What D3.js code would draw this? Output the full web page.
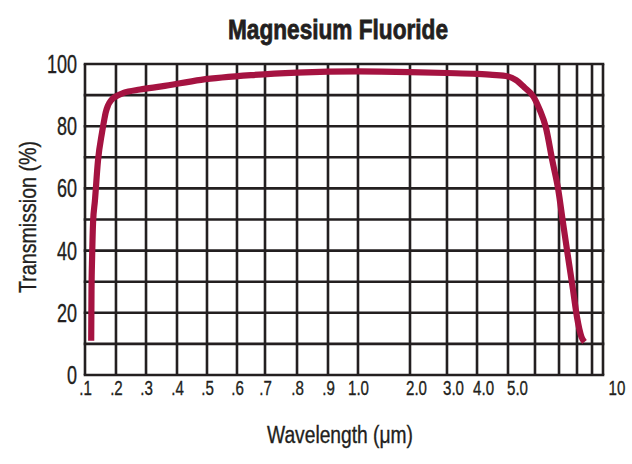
<!DOCTYPE html>
<html>
<head>
<meta charset="utf-8">
<script src="https://cdn.jsdelivr.net/npm/d3@7"></script>
<style>
  html, body { margin: 0; padding: 0; background: #fff; }
  svg { display: block; }
</style>
</head>
<body>
<div id="chart"></div>
<script>
// ---------- data ----------
const title = "Magnesium Fluoride";
const xTitle = "Wavelength (μm)";
const yTitle = "Transmission (%)";

// grid wavelengths (vertical lines) and their labels
const gridWavelengths = [0.1,0.2,0.3,0.4,0.5,0.6,0.7,0.8,0.9,1.0,2,3,4,5,6,7,8,9,10];
const xTickValues = [0.1,0.2,0.3,0.4,0.5,0.6,0.7,0.8,0.9,1.0,2,3,4,5,10];
const xTickLabels = [".1",".2",".3",".4",".5",".6",".7",".8",".9","1.0","2.0","3.0","4.0","5.0","10"];
const yGridValues = [0,10,20,30,40,50,60,70,80,90,100];
const yTickValues = [0,20,40,60,80,100];

// transmission curve
const wavelength = [0.12,0.121,0.123,0.126,0.132,0.142,0.155,0.162,0.167,0.174,0.185,0.2,0.225,0.28,0.35,0.48,0.65,0.8,1.0,2.0,3.0,4.0,4.5,5.0,5.3,5.6,5.95,6.2,6.45,6.72,6.97,7.22,7.5,7.78,8.0,8.3,8.5];
const transmission = [11,27,38,49,56,69,78,82,84.5,86.6,88.4,89.6,90.7,91.8,92.8,94.9,96.4,97.2,97.6,97.4,97.1,96.8,96.5,96.0,94.8,92.5,89.4,85.2,79.7,69.0,59.5,49.0,38.0,27.3,18.6,12.2,10.6];

// ---------- layout ----------
const W = 632, H = 464;
const margin = {top: 64, right: 29, bottom: 89, left: 85};
const iw = W - margin.left - margin.right;
const ih = H - margin.top - margin.bottom;
const ink = "#231f20";
const curveColor = "#a51341";
const font = "'Liberation Sans', Arial, sans-serif";
const squeeze = 0.72;

// the chart's wavelength axis is a hand-laid scale: relative positions of each grid line
const gridFractions = [0,0.0598,0.1178,0.1776,0.2355,0.2934,0.3475,0.4093,0.4691,0.527,0.6274,0.6988,0.7568,0.8166,0.8687,0.9151,0.9498,0.9788,1];

const x = d3.scaleLinear().domain(gridWavelengths).range(gridFractions.map(f => f * iw));
const y = d3.scaleLinear().domain([0,100]).range([ih, 0]);

const svg = d3.select("#chart").append("svg").attr("width", W).attr("height", H)
  .style("background", "#fff");

const g = svg.append("g").attr("transform", `translate(${margin.left},${margin.top})`);

// grid
g.append("g").selectAll("line").data(gridWavelengths).join("line")
  .attr("x1", d => x(d)).attr("x2", d => x(d))
  .attr("y1", 0).attr("y2", ih)
  .attr("stroke", ink).attr("stroke-width", 2.6);
g.append("g").selectAll("line").data(yGridValues).join("line")
  .attr("x1", -1.3).attr("x2", iw + 1.3)
  .attr("y1", d => y(d)).attr("y2", d => y(d))
  .attr("stroke", ink).attr("stroke-width", 2.6);

// curve
const pts = wavelength.map((w, i) => [w, transmission[i]]);
g.append("path").datum(pts)
  .attr("fill", "none")
  .attr("stroke", curveColor)
  .attr("stroke-width", 6.2)
  .attr("stroke-linejoin", "round")
  .attr("stroke-linecap", "butt")
  .attr("d", d3.line().x(d => x(d[0])).y(d => y(d[1])).curve(d3.curveMonotoneX));

// x axis labels
const xAxis = g.append("g").attr("transform", `translate(0,${ih})`)
  .call(d3.axisBottom(x).tickValues(xTickValues)
    .tickFormat((d, i) => xTickLabels[i]).tickSize(0).tickPadding(0));
xAxis.select(".domain").remove();
xAxis.selectAll("text")
  .attr("y", 20).attr("dy", 0)
  .attr("fill", ink).attr("stroke", ink).attr("stroke-width", 0.35)
  .style("font-family", font).style("font-size", "21px")
  .attr("text-anchor", d => d === 10 ? "start" : "middle")
  .attr("x", d => (d === 10 ? 5 : d === 5 ? 9 : d >= 2 ? 6 : 0) / squeeze)
  .attr("transform", `scale(${squeeze},1)`);

// y axis labels
const yAxis = g.append("g")
  .call(d3.axisLeft(y).tickValues(yTickValues).tickSize(0).tickPadding(0));
yAxis.select(".domain").remove();
yAxis.selectAll("text")
  .attr("x", -8 / squeeze).attr("dy", "0.34em")
  .attr("fill", ink).attr("stroke", ink).attr("stroke-width", 0.35)
  .style("font-family", font).style("font-size", "25px")
  .attr("text-anchor", "end")
  .attr("transform", `scale(${squeeze},1)`);

// titles
svg.append("text")
  .attr("x", 338).attr("y", 39)
  .attr("text-anchor", "middle")
  .attr("fill", ink).attr("stroke", ink).attr("stroke-width", 0.8)
  .style("font-family", font).style("font-weight", "bold").style("font-size", "28px")
  .attr("textLength", 220).attr("lengthAdjust", "spacingAndGlyphs")
  .text(title);

svg.append("text")
  .attr("x", margin.left + iw / 2 - 4).attr("y", 443)
  .attr("text-anchor", "middle")
  .attr("fill", ink).attr("stroke", ink).attr("stroke-width", 0.35)
  .style("font-family", font).style("font-size", "23px")
  .attr("textLength", 146).attr("lengthAdjust", "spacingAndGlyphs")
  .text(xTitle);

svg.append("text")
  .attr("transform", `translate(36,217) rotate(-90)`)
  .attr("text-anchor", "middle")
  .attr("fill", ink).attr("stroke", ink).attr("stroke-width", 0.35)
  .style("font-family", font).style("font-size", "24px")
  .attr("textLength", 152).attr("lengthAdjust", "spacingAndGlyphs")
  .text(yTitle);
</script>
</body>
</html>
